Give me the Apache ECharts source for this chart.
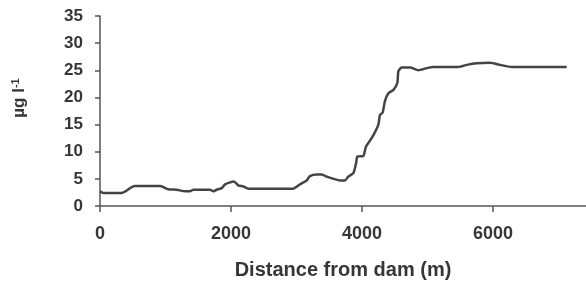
<!DOCTYPE html>
<html>
<head>
<meta charset="utf-8">
<script src="https://cdn.jsdelivr.net/npm/echarts@6/dist/echarts.min.js"></script>
<style>
  html, body { margin: 0; padding: 0; background: #fff; }
  #chart { width: 586px; height: 285px; }
</style>
</head>
<body>
<div id="chart"></div>
<script>
// distance from dam (m) and concentration (µg l-1)
var distance = [0, 50, 330, 530, 920, 1040, 1170, 1300, 1375, 1425, 1680, 1730, 1780, 1860, 1910, 2045, 2110, 2190, 2265,
  2950, 3055, 3155, 3205, 3310, 3385, 3460, 3565, 3665, 3740, 3790, 3870, 3910, 3930, 4020, 4060, 4125, 4185, 4250,
  4275, 4315, 4350, 4405, 4480, 4540, 4555, 4605, 4735, 4860, 4990, 5090, 5470, 5600, 5750, 5955, 6110, 6290, 7125];
var conc = [2.7, 2.4, 2.4, 3.7, 3.7, 3.1, 3.0, 2.7, 2.7, 3.0, 3.0, 2.7, 3.0, 3.3, 4.0, 4.5, 3.8, 3.6, 3.2,
  3.2, 4.0, 4.7, 5.5, 5.8, 5.8, 5.4, 5.0, 4.7, 4.7, 5.4, 6.1, 7.9, 9.1, 9.2, 10.9, 12.1, 13.3, 15.0,
  16.8, 17.2, 19.3, 20.8, 21.4, 22.7, 24.8, 25.5, 25.5, 25.0, 25.4, 25.6, 25.6, 26.0, 26.3, 26.4, 26.0, 25.6, 25.6];
var xTicks = { min: 0, max: 7420, step: 2000 };
var yTicks = { min: 0, max: 35, step: 5 };

var points = [];
for (var i = 0; i < distance.length; i++) {
  points.push([distance[i], conc[i]]);
}

var chart = echarts.init(document.getElementById('chart'));
var font = 'Liberation Sans, Arial, sans-serif';
var ink = '#363636';

chart.setOption({
  animation: false,
  grid: { left: 100, right: 0, top: 16, bottom: 75 },
  xAxis: {
    type: 'value',
    min: xTicks.min, max: xTicks.max, interval: xTicks.step,
    name: 'Distance from dam (m)',
    nameLocation: 'middle',
    nameGap: 54,
    nameTextStyle: { color: ink, fontFamily: font, fontWeight: 'bold', fontSize: 20 },
    axisLine: { onZero: false, lineStyle: { color: '#555', width: 1.5 } },
    axisTick: { show: true, length: 6, lineStyle: { color: '#555', width: 1.5 } },
    axisLabel: {
      margin: 19, showMaxLabel: false,
      color: ink, fontFamily: font, fontWeight: 'bold', fontSize: 18,
      formatter: function (v) { return String(v); }
    },
    splitLine: { show: false }
  },
  yAxis: {
    type: 'value',
    min: yTicks.min, max: yTicks.max, interval: yTicks.step,
    name: '{a|µg l}{s|-1}',
    nameLocation: 'middle',
    nameGap: 72,
    nameRotate: 90,
    nameTextStyle: {
      padding: [0, 0, 0, 26],
      rich: {
        a: { color: ink, fontFamily: font, fontWeight: 'bold', fontSize: 17 },
        s: { color: ink, fontFamily: font, fontWeight: 'bold', fontSize: 11, verticalAlign: 'top', padding: [0, 0, 7, 0] }
      }
    },
    axisLine: { show: true, lineStyle: { color: '#555', width: 1.5 } },
    axisTick: { show: true, length: 5, lineStyle: { color: '#555', width: 1.5 } },
    axisLabel: { margin: 17, color: ink, fontFamily: font, fontWeight: 'bold', fontSize: 17 },
    splitLine: { show: false }
  },
  series: [{
    type: 'line',
    data: points,
    showSymbol: false,
    smooth: 0.2,
    lineStyle: { color: '#444', width: 2.5 }
  }]
});
</script>
</body>
</html>
